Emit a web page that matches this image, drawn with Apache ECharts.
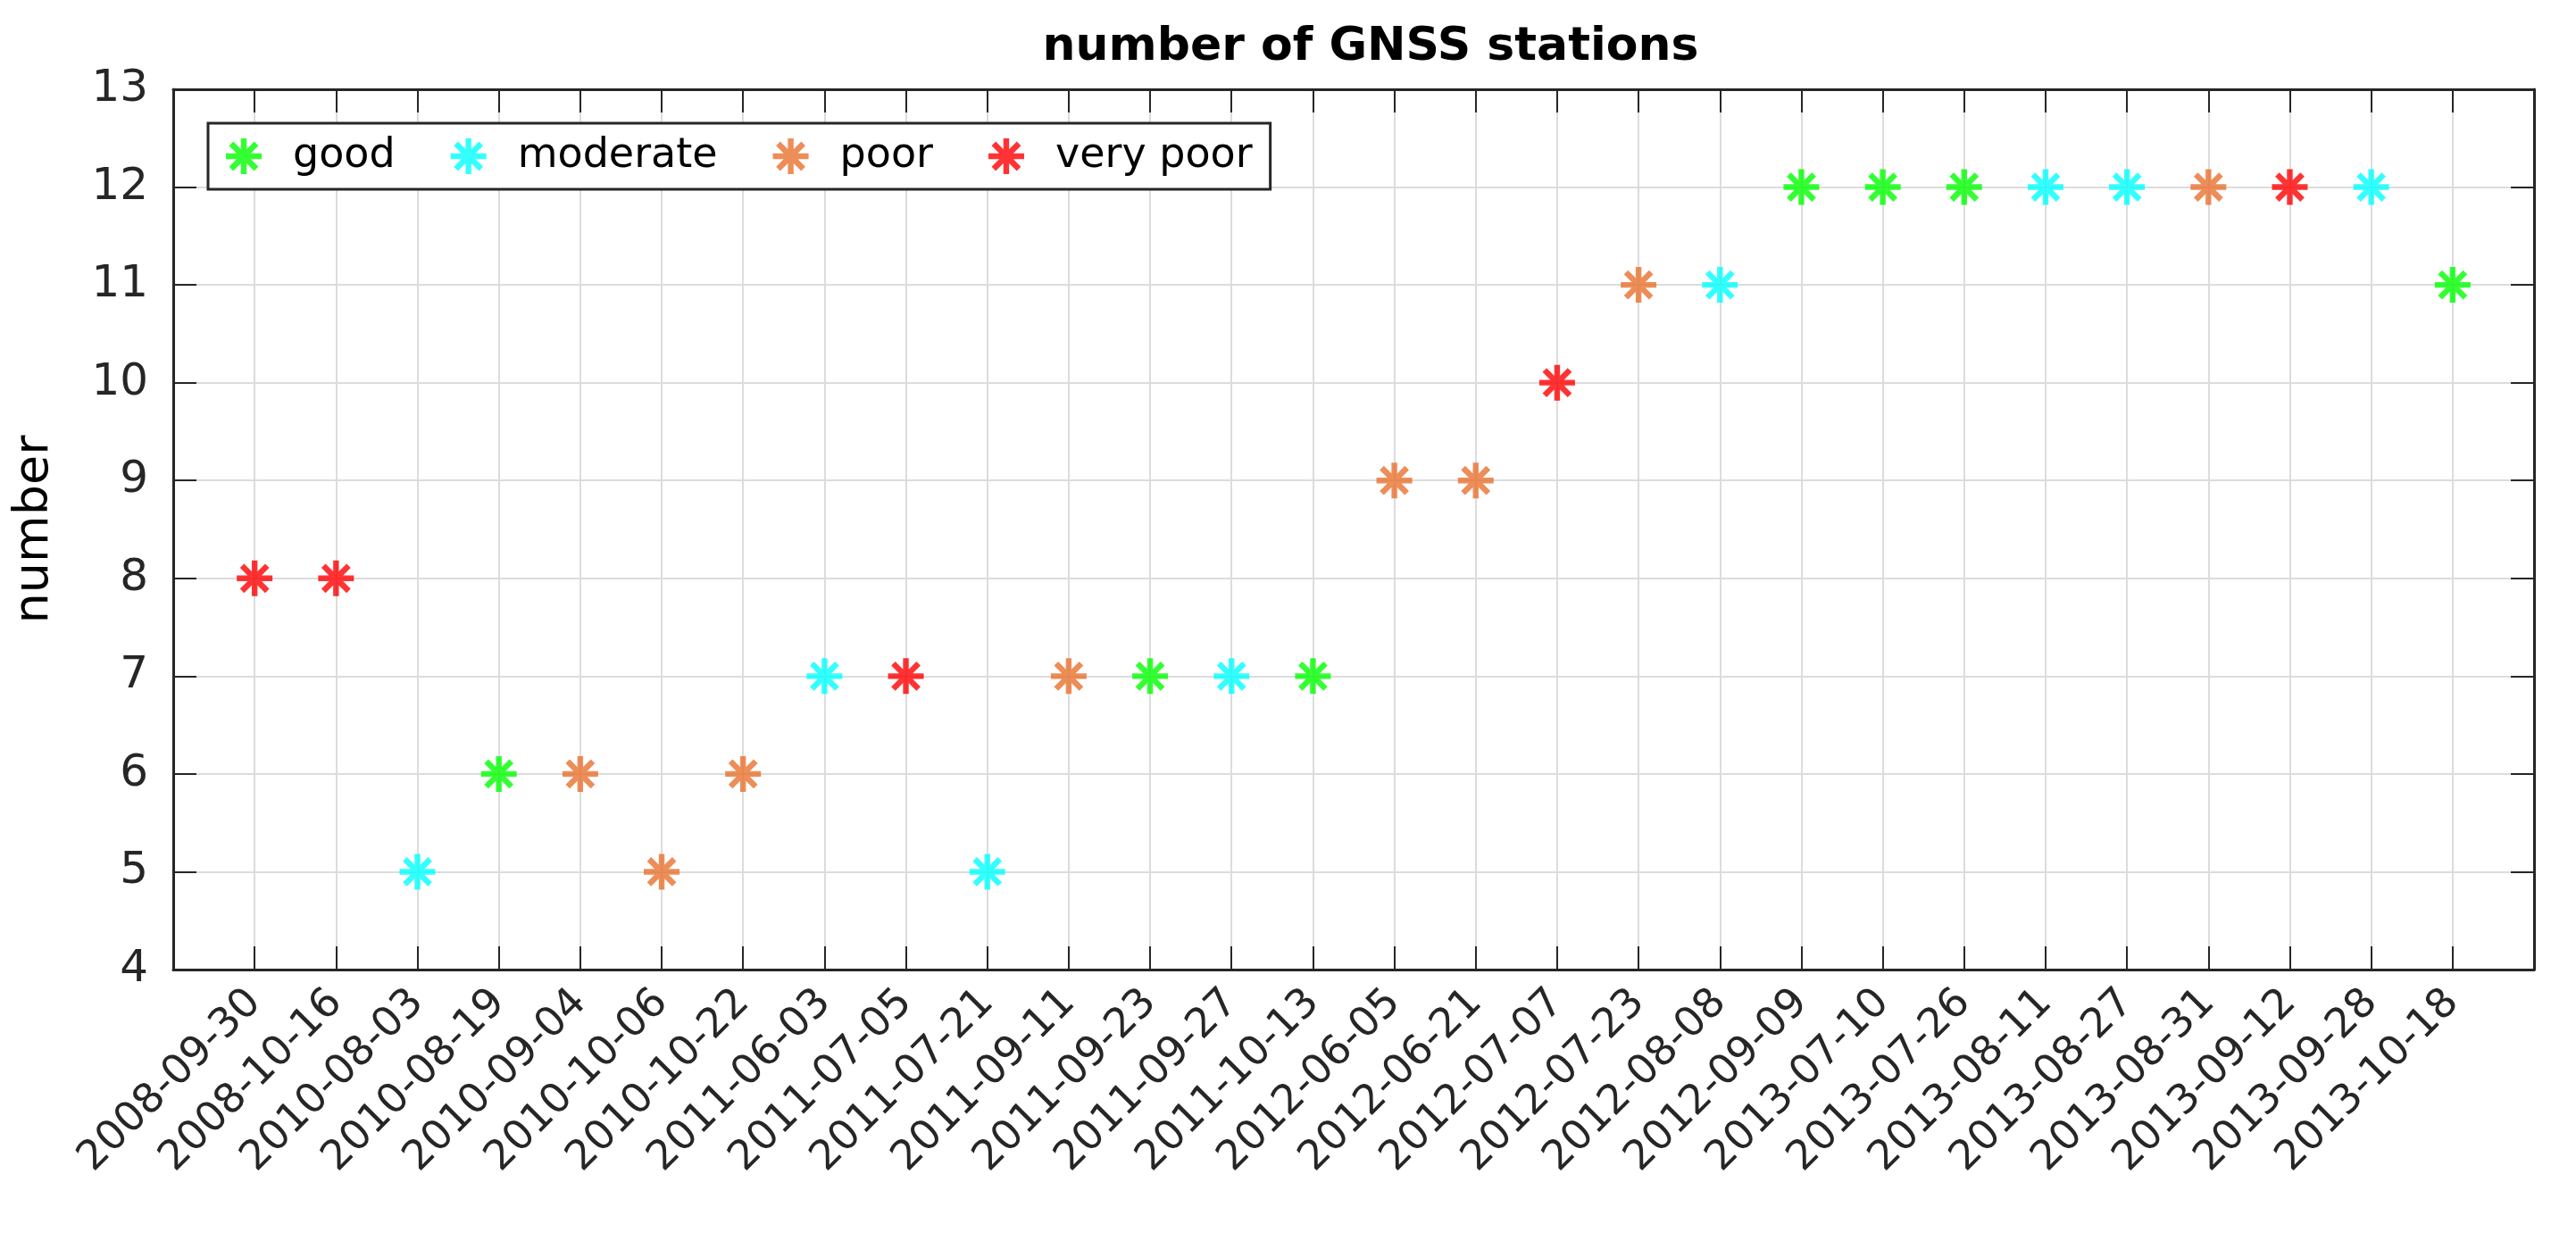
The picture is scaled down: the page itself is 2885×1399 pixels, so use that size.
<!DOCTYPE html>
<html><head><meta charset="utf-8">
<script src="https://cdn.jsdelivr.net/npm/echarts@6/dist/echarts.min.js"></script>
<style>html,body{margin:0;padding:0;background:#fff}#c{width:2885px;height:1399px}</style>
</head><body><div id="c"></div>
<script>
const dates=['2008-09-30','2008-10-16','2010-08-03','2010-08-19','2010-09-04','2010-10-06','2010-10-22','2011-06-03','2011-07-05','2011-07-21','2011-09-11','2011-09-23','2011-09-27','2011-10-13','2012-06-05','2012-06-21','2012-07-07','2012-07-23','2012-08-08','2012-09-09','2013-07-10','2013-07-26','2013-08-11','2013-08-27','2013-08-31','2013-09-12','2013-09-28','2013-10-18'];
const stations=[8,8,5,6,6,5,6,7,7,5,7,7,7,7,9,9,10,11,11,12,12,12,12,12,12,12,12,11];
const quality=['very poor','very poor','moderate','good','poor','poor','poor','moderate','very poor','moderate','poor','good','moderate','good','poor','poor','very poor','poor','moderate','good','good','good','moderate','moderate','poor','very poor','moderate','good'];
const classes=['good','moderate','poor','very poor'];
const colors=['#00ff00','#00ffff','#e8702e','#ff0000'];
const cats=[''].concat(dates,['']);
const star='path://M-1.6,-10L1.6,-10L1.6,10L-1.6,10Z M-10,-1.6L10,-1.6L10,1.6L-10,1.6Z M-8.2,-5.9L-5.9,-8.2L8.2,5.9L5.9,8.2Z M5.9,-8.2L8.2,-5.9L-5.9,8.2L-8.2,5.9Z';
const series=classes.map((c,k)=>({name:c,type:'scatter',symbol:star,symbolSize:40,
  itemStyle:{color:colors[k]},
  data:cats.map((d,i)=>(i>0&&i<=dates.length&&quality[i-1]===c)?stations[i-1]:null)}));
const axLine={lineStyle:{color:'#262626',width:3}};
const tick={show:true,inside:true,length:26,lineStyle:{color:'#262626',width:2}};
const ch=echarts.init(document.getElementById('c'));
ch.setOption({
  animation:false,
  title:{text:'number of GNSS stations',left:1530,textAlign:'center',top:22,textStyle:{fontFamily:'DejaVu Sans',fontSize:52,fontWeight:'bold',color:'#000'}},
  grid:{left:194,right:47,top:100,bottom:313},
  legend:{left:233,top:138,width:1291,height:74,padding:[14,20],itemGap:62,itemWidth:40,itemHeight:40,
    borderColor:'#262626',borderWidth:3,backgroundColor:'#fff',
    textStyle:{fontFamily:'DejaVu Sans',fontSize:46,color:'#000',padding:[0,0,0,30]},data:classes},
  xAxis:[{type:'category',data:cats,boundaryGap:false,
    axisLine:axLine,axisTick:tick,
    splitLine:{show:true,lineStyle:{color:'#dcdcdc',width:2}},
    axisLabel:{rotate:45,interval:0,margin:30,fontFamily:'DejaVu Sans',fontSize:46,color:'#262626'}},
    {type:'category',data:cats,boundaryGap:false,position:'top',axisLine:axLine,axisTick:tick,axisLabel:{show:false}}],
  yAxis:[{type:'value',min:4,max:13,interval:1,name:'number',nameLocation:'middle',nameGap:128,
    nameTextStyle:{fontFamily:'DejaVu Sans',fontSize:54,color:'#000'},
    axisLine:{show:true,...axLine},axisTick:tick,
    splitLine:{show:true,lineStyle:{color:'#dcdcdc',width:2}},
    axisLabel:{margin:28,fontFamily:'DejaVu Sans',fontSize:50,color:'#262626'}},
    {type:'value',min:4,max:13,interval:1,position:'right',axisLine:{show:true,...axLine},axisTick:tick,splitLine:{show:false},axisLabel:{show:false}}],
  series:series
});
</script></body></html>
